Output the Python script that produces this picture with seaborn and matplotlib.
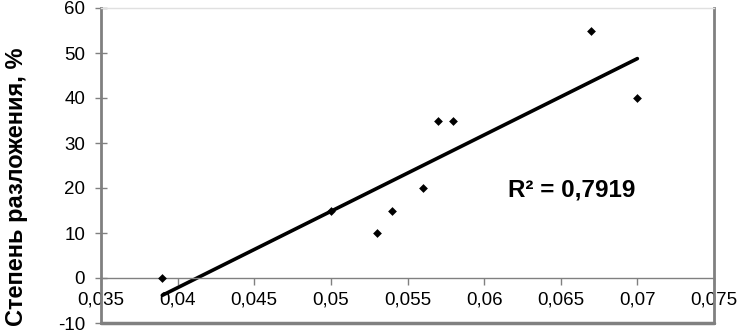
import numpy as np
import seaborn as sns
import matplotlib
matplotlib.use("Agg")
import matplotlib.pyplot as plt
from matplotlib.ticker import FixedLocator, FixedFormatter

## Data
concentration = [0.039, 0.05, 0.053, 0.054, 0.056, 0.057, 0.058, 0.067, 0.07]
degradation = [0, 15, 10, 15, 20, 35, 35, 55, 40]

x_ticks = [0.035, 0.04, 0.045, 0.05, 0.055, 0.06, 0.065, 0.07, 0.075]
x_tick_labels = ["0,035", "0,04", "0,045", "0,05", "0,055", "0,06", "0,065", "0,07", "0,075"]
y_ticks = [-10, 0, 10, 20, 30, 40, 50, 60]
y_tick_labels = ["-10", "0", "10", "20", "30", "40", "50", "60"]

y_label = "Степень разложения, %"

sns.set_style("white")
plt.rcParams["font.family"] = ["Liberation Sans", "DejaVu Sans"]
plt.rcParams["text.color"] = "black"
plt.rcParams["xtick.labelsize"] = 13.5
plt.rcParams["ytick.labelsize"] = 13.5
plt.rcParams["xtick.labelcolor"] = "black"
plt.rcParams["ytick.labelcolor"] = "black"

fig = plt.figure(figsize=(7.39, 3.36), dpi=100)
ax = fig.add_axes([101 / 739, 13 / 336, 613 / 739, 315 / 336])

# points + linear trendline
sns.scatterplot(x=concentration, y=degradation, marker="D", s=20,
                color="black", linewidth=0, ax=ax, zorder=3)
sns.regplot(x=np.array(concentration), y=np.array(degradation), scatter=False,
            ci=None, color="black", line_kws={"linewidth": 2.6}, ax=ax)

# R^2 of the linear fit
r2 = np.corrcoef(concentration, degradation)[0, 1] ** 2
ax.text(0.0657, 19.6, f"R² = {r2:.4f}".replace(".", ","), ha="center", va="center",
        fontsize=17.5, fontweight="bold", color="black")

ax.set_xlim(0.035, 0.075)
ax.set_ylim(-10, 60)
ax.xaxis.set_major_locator(FixedLocator(x_ticks))
ax.xaxis.set_major_formatter(FixedFormatter(x_tick_labels))
ax.yaxis.set_major_locator(FixedLocator(y_ticks))
ax.yaxis.set_major_formatter(FixedFormatter(y_tick_labels))

# x axis crosses at y = 0, like Excel
ax.spines["bottom"].set_position(("data", 0))
ax.spines["bottom"].set_color("#808080")
ax.spines["bottom"].set_linewidth(1)
for side in ["left", "right"]:
    ax.spines[side].set_color("#808080")
    ax.spines[side].set_linewidth(2)
ax.spines["top"].set_color("#e0e0e0")
ax.spines["top"].set_linewidth(1)
ax.axhline(-10, color="#808080", linewidth=2.5, clip_on=False)

ax.tick_params(axis="x", direction="out", length=5, width=1, color="#808080",
               pad=5, bottom=True)
ax.tick_params(axis="y", direction="inout", length=9, width=1, color="#808080",
               pad=7, left=True)

ax.set_xlabel("")
ax.set_ylabel(y_label, fontsize=17, fontweight="bold", va="center", color="black")
ax.yaxis.set_label_coords(-0.138, 0.432)

fig.savefig("out.png", dpi=100)
